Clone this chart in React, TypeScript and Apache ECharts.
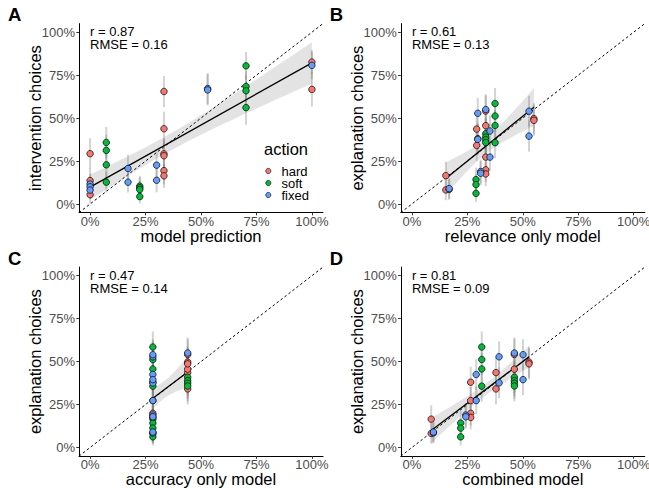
import React, { useEffect, useRef } from "react";
import * as echarts from "echarts";

// ---------- data ----------
const ACTIONS = ["hard", "soft", "fixed"];
const ACTION_COLORS = ["#F8766D", "#00BA38", "#619CFF"];
const TICKS = [0, 0.25, 0.5, 0.75, 1];

// Panel A: intervention choices vs model prediction
const intModel = [0, 0, 0, 0.333, 0.333, 0.333, 0.333, 0.333, 0.333, 1, 1,
  0.073, 0.073, 0.073, 0.073, 0.224, 0.224, 0.224, 0.224, 0.703, 0.703, 0.703, 0.703,
  0, 0, 0, 0.171, 0.171, 0.3, 0.3, 0.53, 0.53, 1];
const intChoice = [0.293, 0.136, 0.054, 0.655, 0.438, 0.292, 0.281, 0.194, 0.164, 0.826, 0.667,
  0.358, 0.312, 0.228, 0.127, 0.104, 0.094, 0.084, 0.043, 0.804, 0.684, 0.659, 0.561,
  0.116, 0.1, 0.081, 0.207, 0.127, 0.226, 0.138, 0.672, 0.664, 0.807];
const intAction = ["hard", "hard", "hard", "hard", "hard", "hard", "hard", "hard", "hard", "hard", "hard",
  "soft", "soft", "soft", "soft", "soft", "soft", "soft", "soft", "soft", "soft", "soft", "soft",
  "fixed", "fixed", "fixed", "fixed", "fixed", "fixed", "fixed", "fixed", "fixed", "fixed"];
const intErr = [0.09, 0.07, 0.05, 0.09, 0.1, 0.09, 0.09, 0.08, 0.07, 0.07, 0.1,
  0.09, 0.09, 0.08, 0.06, 0.06, 0.06, 0.05, 0.04, 0.08, 0.09, 0.09, 0.1,
  0.06, 0.06, 0.05, 0.08, 0.06, 0.08, 0.07, 0.09, 0.09, 0.08];

// Panels B-D: explanation choices vs three models
const expAction = ["hard", "hard", "hard", "hard", "hard", "hard", "hard", "hard", "hard", "hard", "hard", "hard",
  "fixed", "fixed", "fixed", "fixed", "fixed", "fixed", "fixed", "fixed", "fixed", "fixed", "fixed",
  "soft", "soft", "soft", "soft", "soft", "soft", "soft", "soft", "soft", "soft", "soft"];
const expChoice = [0.165, 0.082, 0.436, 0.341, 0.541, 0.456, 0.273, 0.199, 0.175, 0.497, 0.487, 0.38,
  0.085, 0.09, 0.528, 0.376, 0.189, 0.179, 0.55, 0.425, 0.273, 0.54, 0.395,
  0.142, 0.113, 0.062, 0.409, 0.389, 0.374, 0.358, 0.585, 0.512, 0.457, 0.357];
const expErr = [0.08, 0.06, 0.09, 0.09, 0.09, 0.09, 0.08, 0.07, 0.07, 0.09, 0.09, 0.09,
  0.06, 0.06, 0.09, 0.09, 0.07, 0.07, 0.09, 0.09, 0.08, 0.09, 0.09,
  0.07, 0.06, 0.05, 0.09, 0.09, 0.09, 0.09, 0.09, 0.09, 0.09, 0.09];
const relModel = [0.153, 0.153, 0.292, 0.292, 0.333, 0.333, 0.333, 0.333, 0.333, 0.55, 0.55, 0.297,
  0.168, 0.168, 0.297, 0.297, 0.31, 0.31, 0.333, 0.352, 0.352, 0.528, 0.528,
  0.289, 0.289, 0.289, 0.333, 0.333, 0.333, 0.333, 0.375, 0.375, 0.375, 0.375];
const accModel = [0.283, 0.283, 0.44, 0.44, 0.44, 0.44, 0.283, 0.283, 0.283, 0.44, 0.44, 0.283,
  0.283, 0.283, 0.283, 0.283, 0.283, 0.283, 0.44, 0.283, 0.283, 0.283, 0.283,
  0.283, 0.283, 0.283, 0.44, 0.44, 0.44, 0.44, 0.283, 0.283, 0.283, 0.283];
const combModel = [0.087, 0.087, 0.379, 0.379, 0.462, 0.462, 0.265, 0.265, 0.265, 0.528, 0.528, 0.265,
  0.097, 0.097, 0.393, 0.393, 0.243, 0.243, 0.462, 0.29, 0.29, 0.501, 0.501,
  0.22, 0.22, 0.22, 0.462, 0.462, 0.462, 0.462, 0.315, 0.315, 0.315, 0.315];

const PANEL_LETTERS = ["A", "B", "C", "D"];
const X_TITLES = ["model prediction", "relevance only model", "accuracy only model", "combined model"];
const Y_TITLES = ["intervention choices", "explanation choices", "explanation choices", "explanation choices"];
const R_VALUES = ["0.87", "0.61", "0.47", "0.81"];
const RMSE_VALUES = ["0.16", "0.13", "0.14", "0.09"];
const LEGEND_TITLE = "action";

// ---------- layout ----------
const FONT = "'Liberation Sans', Arial, Helvetica, sans-serif";
const GRID_W = 244;
const GRID_H = 189;
const GRID_POS = [
  { left: 79, top: 23.6 },
  { left: 400.8, top: 23.6 },
  { left: 79, top: 267.1 },
  { left: 400.8, top: 267.1 },
];
const T_CRIT = 2.04;

function fitLm(xs: number[], ys: number[]) {
  const n = xs.length;
  const mx = xs.reduce((a, b) => a + b, 0) / n;
  const my = ys.reduce((a, b) => a + b, 0) / n;
  let sxx = 0, sxy = 0;
  for (let i = 0; i < n; i++) {
    sxx += (xs[i] - mx) ** 2;
    sxy += (xs[i] - mx) * (ys[i] - my);
  }
  const b = sxy / sxx;
  const a = my - b * mx;
  let sse = 0;
  for (let i = 0; i < n; i++) sse += (ys[i] - a - b * xs[i]) ** 2;
  const s = Math.sqrt(sse / (n - 2));
  const lo = Math.min(...xs);
  const hi = Math.max(...xs);
  const band: number[][] = [];
  const steps = 60;
  for (let k = 0; k <= steps; k++) {
    const x = lo + ((hi - lo) * k) / steps;
    const yhat = a + b * x;
    const se = s * Math.sqrt(1 / n + (x - mx) ** 2 / sxx);
    band.push([x, yhat - T_CRIT * se, yhat + T_CRIT * se]);
  }
  return { line: [[lo, a + b * lo], [hi, a + b * hi]], band };
}

export default function App() {
  const ref = useRef<HTMLDivElement>(null);

  useEffect(() => {
    document.body.style.margin = "0";
    if (!ref.current) return;
    const chart = echarts.init(ref.current, null, { renderer: "svg" });

    const panels = [
      { xs: intModel, ys: intChoice, acts: intAction, errs: intErr },
      { xs: relModel, ys: expChoice, acts: expAction, errs: expErr },
      { xs: accModel, ys: expChoice, acts: expAction, errs: expErr },
      { xs: combModel, ys: expChoice, acts: expAction, errs: expErr },
    ];

    const grids: any[] = [];
    const xAxes: any[] = [];
    const yAxes: any[] = [];
    const series: any[] = [];
    const graphics: any[] = [];

    const pctFmt = (v: number) => Math.round(v * 100) + "%";

    panels.forEach((p, i) => {
      const g = GRID_POS[i];
      grids.push({
        left: g.left, top: g.top, width: GRID_W, height: GRID_H,
        containLabel: false, outerBoundsMode: "none", show: false,
      });
      const axisCommon = {
        type: "value",
        gridIndex: i,
        min: -0.05,
        max: 1.05,
        splitLine: { show: false },
        axisLine: { show: true, onZero: false, lineStyle: { color: "#000", width: 1 } },
        axisTick: { show: true, length: 2.7, customValues: TICKS, lineStyle: { color: "#333", width: 1 } },
        nameLocation: "middle",
        nameMoveOverlap: false,
        nameTextStyle: { fontSize: 16.5, color: "#000", fontFamily: FONT, lineHeight: 16.5 },
      };
      xAxes.push({
        ...axisCommon,
        name: X_TITLES[i],
        nameGap: 15,
        axisLabel: { customValues: TICKS, formatter: pctFmt, color: "#4D4D4D", fontSize: 13, lineHeight: 12.5, margin: 2.3, fontFamily: FONT },
      });
      yAxes.push({
        ...axisCommon,
        name: Y_TITLES[i],
        nameGap: 36,
        axisLabel: { customValues: TICKS, formatter: pctFmt, color: "#4D4D4D", fontSize: 13, margin: 4, fontFamily: FONT },
      });

      const fit = fitLm(p.xs, p.ys);
      const band = fit.band;

      // confidence band
      series.push({
        type: "custom",
        xAxisIndex: i,
        yAxisIndex: i,
        silent: true,
        z: 1,
        data: band,
        encode: { x: 0, y: [1, 2] },
        renderItem: (params: any, api: any) => {
          if (params.dataIndex !== 0) return { type: "group", children: [] };
          const upper = band.map((d) => api.coord([d[0], d[2]]));
          const lower = band.map((d) => api.coord([d[0], d[1]])).reverse();
          return {
            type: "polygon",
            shape: { points: upper.concat(lower) },
            style: { fill: "rgba(153,153,153,0.28)", stroke: "none" },
          };
        },
      });

      // identity diagonal
      series.push({
        type: "line",
        xAxisIndex: i,
        yAxisIndex: i,
        silent: true,
        z: 2,
        symbol: "none",
        data: [[-0.05, -0.05], [1.05, 1.05]],
        lineStyle: { color: "#000", width: 1, type: [2.5, 2.5] },
      });

      // error bars
      series.push({
        type: "custom",
        xAxisIndex: i,
        yAxisIndex: i,
        silent: true,
        z: 3,
        data: p.xs.map((x, k) => [x, p.ys[k] - p.errs[k], p.ys[k] + p.errs[k]]),
        encode: { x: 0, y: [1, 2] },
        renderItem: (_params: any, api: any) => {
          const a = api.coord([api.value(0), api.value(1)]);
          const b = api.coord([api.value(0), api.value(2)]);
          return {
            type: "line",
            shape: { x1: a[0], y1: a[1], x2: b[0], y2: b[1] },
            style: { stroke: "rgba(120,120,120,0.33)", lineWidth: 2 },
          };
        },
      });

      // regression line
      series.push({
        type: "line",
        xAxisIndex: i,
        yAxisIndex: i,
        silent: true,
        z: 4,
        symbol: "none",
        data: fit.line,
        lineStyle: { color: "#000", width: 1.3 },
      });

      // points
      ACTIONS.forEach((act, ai) => {
        series.push({
          type: "scatter",
          name: act,
          xAxisIndex: i,
          yAxisIndex: i,
          z: 5,
          symbol: "circle",
          symbolSize: 6.5,
          itemStyle: { color: ACTION_COLORS[ai], borderColor: "#000", borderWidth: 0.7, opacity: 1 },
          data: p.xs.map((x, k) => (p.acts[k] === act ? [x, p.ys[k]] : null)).filter((d) => d !== null),
        });
      });

      // panel letter
      graphics.push({
        type: "text",
        x: g.left - 71,
        y: g.top - 9,
        style: { text: PANEL_LETTERS[i], fill: "#000", fontSize: 18.5, fontWeight: "bold", fontFamily: FONT, align: "left", verticalAlign: "middle" },
      });
      // annotation
      graphics.push({
        type: "text",
        x: g.left + 11.1,
        y: g.top + 8.1,
        style: { text: "r = " + R_VALUES[i], fill: "#000", fontSize: 13, lineHeight: 12, fontFamily: FONT, align: "left", verticalAlign: "middle" },
      });
      graphics.push({
        type: "text",
        x: g.left + 11.1,
        y: g.top + 21.1,
        style: { text: "RMSE = " + RMSE_VALUES[i], fill: "#000", fontSize: 13, lineHeight: 12, fontFamily: FONT, align: "left", verticalAlign: "middle" },
      });
    });

    // legend (inside panel A)
    graphics.push({
      type: "text",
      x: 264,
      y: 149.3,
      style: { text: LEGEND_TITLE, fill: "#000", fontSize: 16.5, lineHeight: 16, fontFamily: FONT, align: "left", verticalAlign: "middle" },
    });
    ACTIONS.forEach((act, ai) => {
      const cy = 171 + ai * 12;
      graphics.push({
        type: "circle",
        shape: { cx: 268.3, cy, r: 2.6 },
        style: { fill: ACTION_COLORS[ai], stroke: "#000", lineWidth: 0.6 },
      });
      graphics.push({
        type: "text",
        x: 281.5,
        y: cy,
        style: { text: act, fill: "#000", fontSize: 13, lineHeight: 11.5, fontFamily: FONT, align: "left", verticalAlign: "middle" },
      });
    });

    chart.setOption({
      animation: false,
      textStyle: { fontFamily: FONT },
      grid: grids,
      xAxis: xAxes,
      yAxis: yAxes,
      series,
      graphic: graphics,
    });

    return () => chart.dispose();
  }, []);

  return (
    <div
      ref={ref}
      style={{ position: "fixed", left: 0, top: 0, width: 649, height: 488, background: "#fff" }}
    />
  );
}
